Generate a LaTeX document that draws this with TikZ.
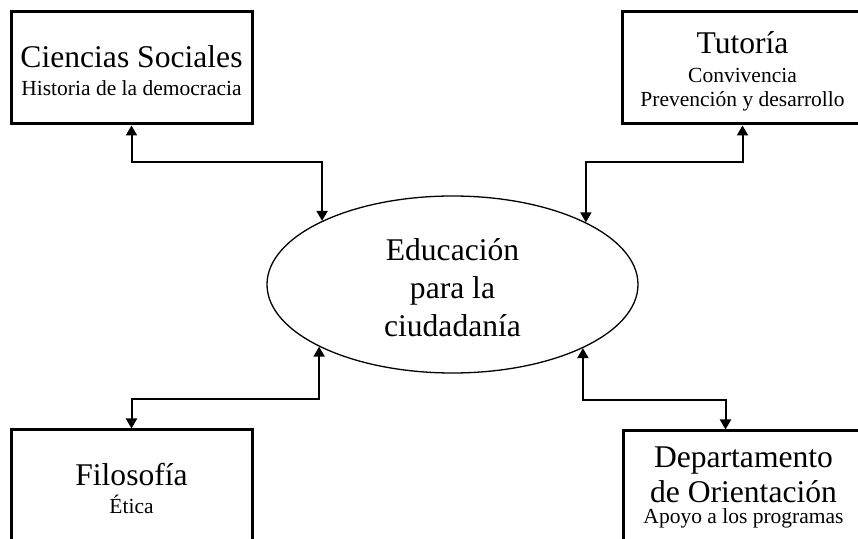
\documentclass[tikz,border=0pt]{standalone}
\usepackage{fontspec}
\setmainfont{Liberation Serif}
\usetikzlibrary{arrows.meta, calc, shapes.geometric}

\newcommand{\mainsize}{\fontsize{15.8pt}{19pt}\selectfont}
\newcommand{\subsize}{\fontsize{10.75pt}{12pt}\selectfont}
\newcommand{\topline}[1]{\rule{0pt}{#1}}

\tikzset{
	area/.style={draw, rectangle, line width=1.5pt, minimum width=120.5pt, minimum height=56pt, inner sep=0pt, text centered, align=center, font=\subsize},
	subject/.style={draw, ellipse, line width=0.65pt, minimum width=185.5pt, minimum height=88.5pt, inner sep=0pt, text centered, align=center, font=\mainsize},
	link/.style={{Triangle[length=5pt,width=5.5pt]}-{Triangle[length=5pt,width=5.5pt]}, line width=1pt}
}

\begin{document}
\begin{tikzpicture}[x=0.5pt, y=-0.5pt]
	\useasboundingbox (0,0) rectangle (858,539);
	\clip (0,0) rectangle (858,539);

	\node (Educacion) at (452.5,284.5) [subject]{\topline{14.3pt}Educación\\para la\\ciudadanía};

	\node (CienciasSociales) at ($(Educacion) + (-321,-216.5)$) [area]{{\mainsize\topline{13.6pt}Ciencias Sociales}\\[2pt]Historia de la democracia};
	\draw[link] (CienciasSociales.south) -- ++(0,36.7) -| (Educacion.154.3);
	\node (Tutoria) at ($(Educacion) + (290,-216.5)$) [area]{{\mainsize\topline{14.2pt}Tutoría}\\[2.5pt]Convivencia\\Prevención y desarrollo};
	\draw[link] (Tutoria.south) -- ++(0,36.7) -| (Educacion.25.7);

	\node (Filosofia) at ($(Educacion) + (-321,201.5)$) [area]{{\mainsize\topline{13.8pt}Filosofía}\\[2pt]Ética};
	\draw[link] (Filosofia.north) -- ++(0,-29) -| (Educacion.205.7);
	\node (DepartamentoOrientacion) at ($(Educacion) + (291,202.5)$) [area, font=\mainsize]{Departamento\\[-1.5pt]de Orientación\\[-8.5pt]{\subsize Apoyo a los programas}};
	\draw[link] ($(DepartamentoOrientacion.north west) + (104,0)$) -- ++(0,-29.5) -| (Educacion.334.3);
\end{tikzpicture}
\end{document}
